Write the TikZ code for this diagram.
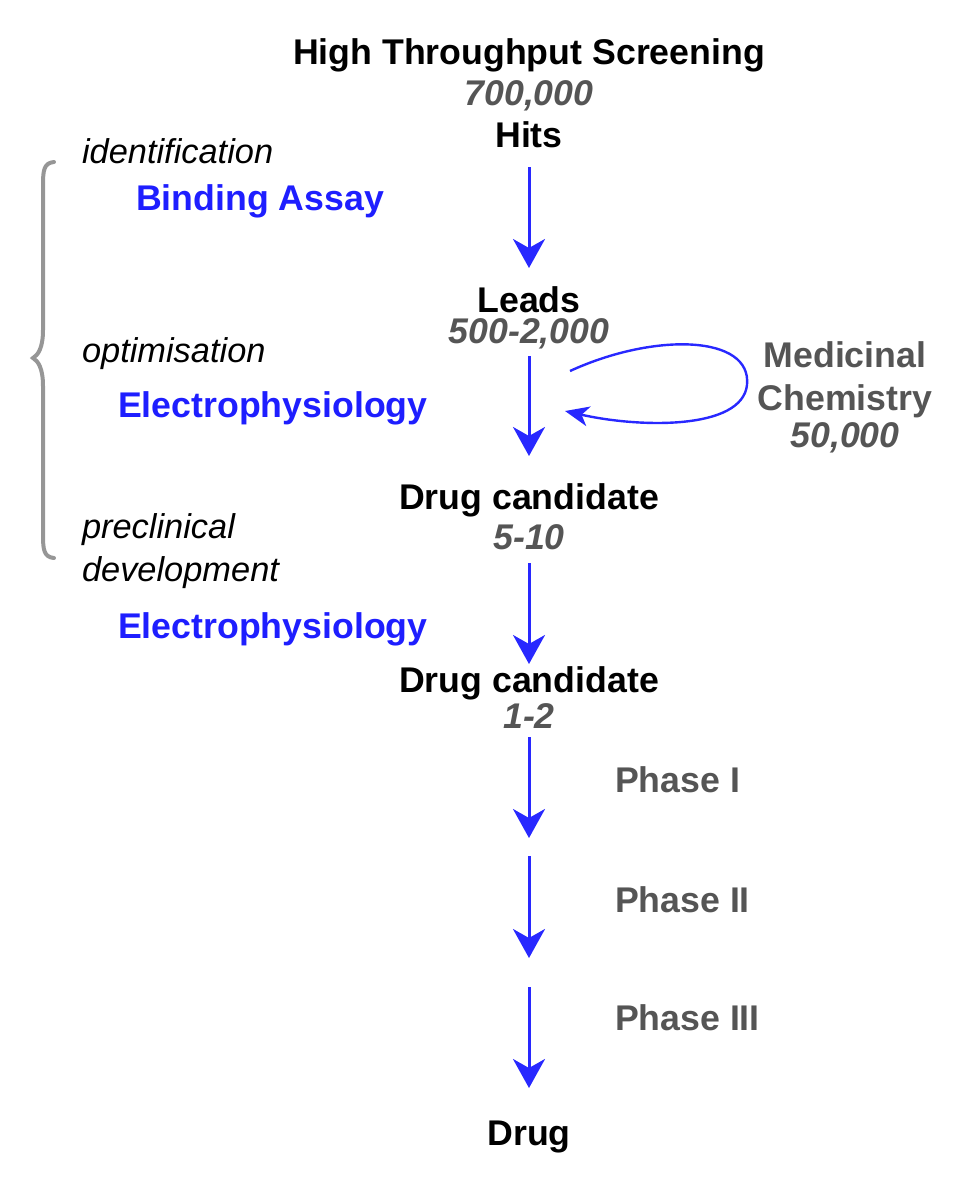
\documentclass[tikz,border=0pt]{standalone}
\usepackage{fontspec}
\setmainfont{Liberation Sans}
\usetikzlibrary{arrows.meta}
\definecolor{arrblue}{RGB}{40,40,255}
\definecolor{txtblue}{RGB}{30,30,255}
\definecolor{numgray}{RGB}{85,85,85}
\definecolor{bracegray}{RGB}{150,150,150}
\begin{document}
\begin{tikzpicture}[x=1pt,y=-1pt,
  every node/.style={inner sep=0pt,outer sep=0pt,font=\fontsize{35.7}{41}\selectfont},
  title/.style={anchor=base,font=\fontsize{35.7}{41}\selectfont\bfseries,text=black},
  num/.style={anchor=base,font=\fontsize{35.7}{41}\selectfont\bfseries\itshape,text=numgray},
  method/.style={anchor=base west,font=\fontsize{35.7}{41}\selectfont\bfseries,text=txtblue},
  stage/.style={anchor=base west,font=\fontsize{34.4}{43}\selectfont\itshape,text=black},
  phase/.style={anchor=base west,font=\fontsize{35.7}{41}\selectfont\bfseries,text=numgray},
  flow/.style={draw=arrblue,line width=3pt,-{Stealth[length=29pt,width=32pt,inset=9pt]}},
  loop/.style={draw=arrblue,line width=2.4pt,-{Stealth[length=24pt,width=20pt,inset=7pt]}},
  bracepath/.style={draw=bracegray,line width=4pt,line cap=round}
]
\useasboundingbox (0,0) rectangle (974,1200);
% main column
\node[title] (hts) at (529,64) {High Throughput Screening};
\node[num] (n700) at (529,105) {700,000};
\node[title] (hits) at (529,147) {Hits};
\node[title] (leads) at (529,312) {Leads};
\node[num] (n500) at (529,343) {500-2,000};
\node[title] (dc1) at (529,509) {Drug candidate};
\node[num] (n510) at (529,549) {5-10};
\node[title] (dc2) at (529,692) {Drug candidate};
\node[num] (n12) at (529,728) {1-2};
\node[title] (drug) at (529,1145) {Drug};
% right labels
\node[anchor=base,align=center,font=\fontsize{35.7}{43}\selectfont\bfseries,text=numgray] (medchem) at (845,447) {Medicinal\\Chemistry\\[-6pt]{\itshape 50,000}};
\node[phase] (ph1) at (615,792) {Phase I};
\node[phase] (ph2) at (615,912) {Phase II};
\node[phase] (ph3) at (615,1030) {Phase III};
% left labels
\node[stage] (ident) at (82,163) {identification};
\node[method] (bind) at (136,210) {Binding Assay};
\node[stage] (optim) at (82,362) {optimisation};
\node[method] (ephys1) at (118,417) {Electrophysiology};
\node[stage,align=left] (precl) at (82,581) {preclinical\\development};
\node[method] (ephys2) at (118,638) {Electrophysiology};
% arrow end points
\coordinate (a1s) at (529,167); \coordinate (a1e) at (529,268);
\coordinate (a2s) at (529,356); \coordinate (a2e) at (529,456);
\coordinate (a3s) at (529,563); \coordinate (a3e) at (529,664);
\coordinate (a4s) at (529,737); \coordinate (a4e) at (529,838);
\coordinate (a5s) at (529,856); \coordinate (a5e) at (529,958);
\coordinate (a6s) at (529,987); \coordinate (a6e) at (529,1088);
\draw[flow] (a1s) -- (a1e);
\draw[flow] (a2s) -- (a2e);
\draw[flow] (a3s) -- (a3e);
\draw[flow] (a4s) -- (a4e);
\draw[flow] (a5s) -- (a5e);
\draw[flow] (a6s) -- (a6e);
% medicinal chemistry loop
\coordinate (ls) at (570,371);
\coordinate (lm) at (747,385);
\coordinate (le) at (565,411);
\draw[loop] (ls) .. controls (655,332) and (752,335) .. (lm) .. controls (742,430) and (640,428) .. (le);
% brace
\draw[bracepath] (54,162) .. controls (44,163) and (43,170) .. (43,185) -- (43,330)
  .. controls (43,348) and (38,355) .. (33,358)
  .. controls (38,361) and (43,368) .. (43,386) -- (43,535)
  .. controls (43,550) and (44,557) .. (54,558);
\end{tikzpicture}
\end{document}
